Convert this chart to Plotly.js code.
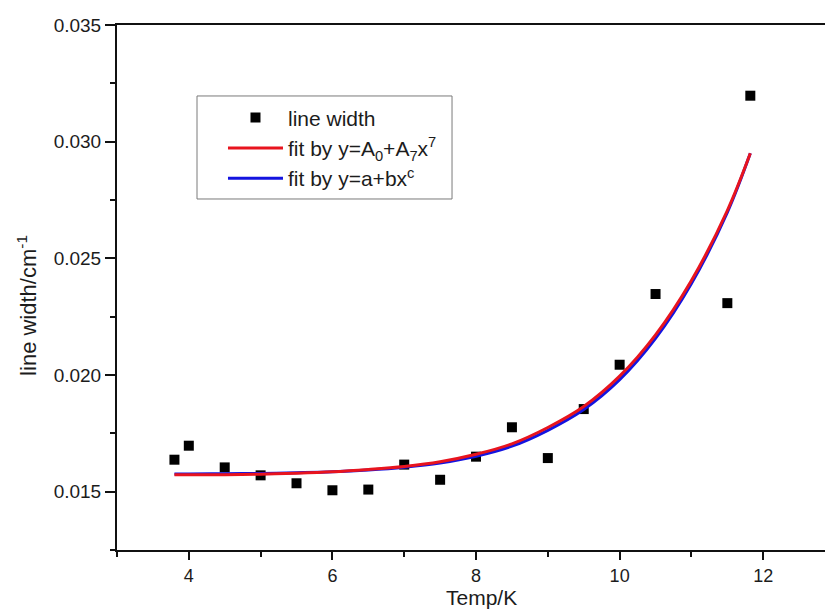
<!DOCTYPE html>
<html>
<head>
<meta charset="utf-8">
<script src="https://cdn.plot.ly/plotly-3.0.1.min.js"></script>
<style>
  html, body { margin: 0; padding: 0; background: #fff; overflow: hidden; }
  #chart { width: 825px; height: 610px; }
</style>
</head>
<body>
<div id="chart"></div>
<script>
// Measured line width versus temperature
const temp = [3.8, 4.0, 4.5, 5.0, 5.5, 6.0, 6.5, 7.0, 7.5, 8.0, 8.5, 9.0, 9.5, 10.0, 10.5, 11.5, 11.82];
const lineWidth = [0.01637, 0.01697, 0.01604, 0.01570, 0.01536, 0.01506, 0.01509, 0.01616, 0.01551,
                   0.01650, 0.01776, 0.01644, 0.01854, 0.02044, 0.02347, 0.02308, 0.03197];

// Fitted curves, sampled along the temperature range
const fitTemp = [3.8, 4.0, 4.5, 5.0, 5.5, 6.0, 6.5, 7.0, 7.5, 8.0, 8.5, 9.0, 9.5, 10.0, 10.5, 11.0, 11.5, 11.82];
const fitA0A7 = [0.01572, 0.01572, 0.01573, 0.01575, 0.01579, 0.01585, 0.01595, 0.01608, 0.01628, 0.01660,
                 0.01705, 0.01775, 0.01865, 0.01995, 0.02172, 0.02405, 0.02705, 0.02950];
const fitPower = [0.01576, 0.01576, 0.01577, 0.01578, 0.01581, 0.01585, 0.01593, 0.01605, 0.01623, 0.01652,
                  0.01695, 0.01763, 0.01852, 0.01980, 0.02157, 0.02392, 0.02697, 0.02950];

// Axis ticks and titles
const xTicks = [4, 6, 8, 10, 12];
const yTicks = [0.015, 0.020, 0.025, 0.030, 0.035];
const yTickText = ['0.015', '0.020', '0.025', '0.030', '0.035'];
const xTitle = 'Temp/K';
const yTitle = 'line width/cm<sup>-1</sup>';

const font = 'Liberation Sans, Arial, sans-serif';
const ink = '#1c1c1c';

const traces = [
  {
    x: temp, y: lineWidth, type: 'scatter', mode: 'markers',
    name: 'line width', legendrank: 1,
    marker: { symbol: 'square', size: 10, color: '#000' }
  },
  {
    x: fitTemp, y: fitPower, type: 'scatter', mode: 'lines',
    name: 'fit by y=a+bx<sup>c</sup>', legendrank: 3,
    line: { color: '#1414e0', width: 3, shape: 'spline' }
  },
  {
    x: fitTemp, y: fitA0A7, type: 'scatter', mode: 'lines',
    name: 'fit by y=A<sub>0</sub>+A<sub>7</sub>x<sup>7</sup>', legendrank: 2,
    line: { color: '#e8141e', width: 3, shape: 'spline' }
  }
];

const layout = {
  width: 825, height: 610,
  margin: { l: 117, r: 0, t: 25, b: 60 },
  paper_bgcolor: '#fff', plot_bgcolor: '#fff',
  font: { family: font, color: ink, size: 19 },
  showlegend: true,
  legend: {
    x: 0.1497, y: 0.862, xanchor: 'left', yanchor: 'top',
    bgcolor: 'rgba(0,0,0,0)', borderwidth: 0,
    font: { family: font, size: 21, color: ink },
    itemwidth: 55
  },
  // frame around the legend entries
  shapes: [{
    type: 'rect', xref: 'paper', yref: 'paper',
    x0: 0.1130, x1: 0.4732, y0: 0.6686, y1: 0.8648,
    line: { color: '#7a7a7a', width: 1 }, fillcolor: 'rgba(0,0,0,0)', layer: 'below'
  }],
  annotations: [
    {
      text: xTitle, xref: 'paper', yref: 'paper', x: 0.5155, y: -0.091,
      xanchor: 'center', yanchor: 'middle', showarrow: false, borderpad: 0,
      font: { family: font, size: 21, color: ink }
    },
    {
      text: yTitle, xref: 'paper', yref: 'paper', x: 0, y: 0.465, xshift: -90,
      xanchor: 'center', yanchor: 'middle', textangle: -90, showarrow: false,
      font: { family: font, size: 22, color: ink }
    }
  ],
  xaxis: {
    range: [3, 12.86],
    tickvals: xTicks, ticktext: xTicks.map(String),
    ticks: 'outside', ticklen: 8, tickwidth: 2, tickcolor: '#111',
    minor: { dtick: 1, tick0: 3, ticks: 'outside', ticklen: 5, tickwidth: 2, tickcolor: '#111' },
    showline: true, linecolor: '#111', linewidth: 2, mirror: true,
    showgrid: false, zeroline: false,
    tickfont: { family: font, size: 18, color: ink }
  },
  yaxis: {
    range: [0.0125, 0.035],
    tickvals: yTicks, ticktext: yTickText,
    ticks: 'outside', ticklen: 10, tickwidth: 2, tickcolor: '#111',
    minor: { dtick: 0.0025, tick0: 0.0125, ticks: 'outside', ticklen: 5, tickwidth: 2, tickcolor: '#111' },
    showline: true, linecolor: '#111', linewidth: 2,
    showgrid: false, zeroline: false,
    tickfont: { family: font, size: 19, color: ink }
  }
};

Plotly.newPlot('chart', traces, layout, { staticPlot: true, displayModeBar: false });
</script>
</body>
</html>
